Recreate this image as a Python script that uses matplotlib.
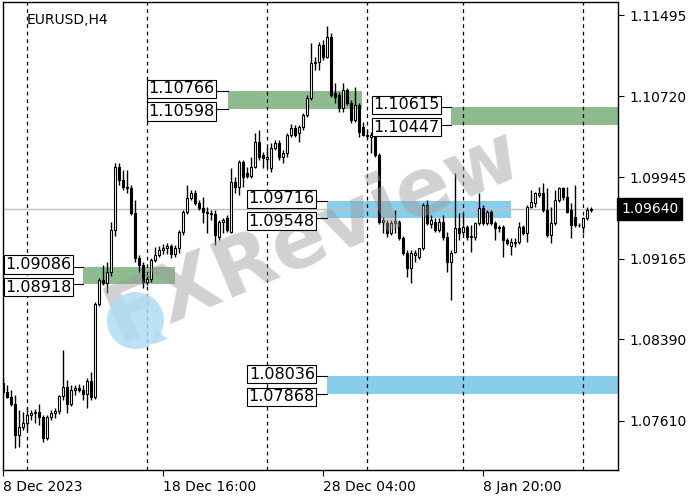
import matplotlib.pyplot as plt
import numpy as np

# EURUSD H4 candles (bar 0 = 8 Dec 2023 00:00)
opens = [1.07974, 1.07888, 1.07840, 1.07773, 1.07476, 1.07553, 1.07591, 1.07667, 1.07687, 1.07696,
         1.07648, 1.07447, 1.07648, 1.07687, 1.07706, 1.07849, 1.07935, 1.07773, 1.07907, 1.07926,
         1.07907, 1.07868, 1.07993, 1.07840, 1.08730, 1.08959, 1.08931, 1.09036, 1.09438, 1.10041,
         1.09916, 1.09849, 1.09840, 1.09601, 1.09170, 1.09103, 1.08940, 1.08969, 1.09151, 1.09199,
         1.09247, 1.09266, 1.09285, 1.09208, 1.09266, 1.09419, 1.09610, 1.09744, 1.09792, 1.09696,
         1.09648, 1.09610, 1.09601, 1.09595, 1.09371, 1.09515, 1.09553, 1.09419, 1.09897, 1.09849,
         1.10089, 1.09983, 1.09955, 1.10041, 1.10280, 1.10156, 1.10117, 1.10031, 1.10223, 1.10271,
         1.10137, 1.10175, 1.10347, 1.10414, 1.10366, 1.10424, 1.10538, 1.10701, 1.11036, 1.11046,
         1.11208, 1.11094, 1.11285, 1.10749, 1.10730, 1.10605, 1.10778, 1.10653, 1.10491, 1.10634,
         1.10424, 1.10347, 1.10328, 1.10347, 1.10156, 1.09515, 1.09505, 1.09409, 1.09505, 1.09515,
         1.09361, 1.09218, 1.09074, 1.09199, 1.09180, 1.09266, 1.09677, 1.09495, 1.09515, 1.09438,
         1.09515, 1.09371, 1.09132, 1.09227, 1.09457, 1.09419, 1.09467, 1.09371, 1.09371, 1.09505,
         1.09648, 1.09505, 1.09610, 1.09505, 1.09457, 1.09467, 1.09342, 1.09285, 1.09314, 1.09323,
         1.09467, 1.09409, 1.09658, 1.09696, 1.09773, 1.09792, 1.09629, 1.09390, 1.09505, 1.09725,
         1.09840, 1.09754, 1.09629, 1.09562, 1.09490, 1.09467, 1.09553, 1.09629]
highs = [1.08031, 1.07955, 1.07907, 1.07859, 1.07715, 1.07696, 1.07744, 1.07715, 1.07725, 1.07773,
         1.07667, 1.07667, 1.07715, 1.07734, 1.07859, 1.08290, 1.08002, 1.07955, 1.07955, 1.07964,
         1.07955, 1.08022, 1.08079, 1.08749, 1.08979, 1.09103, 1.09132, 1.09515, 1.10079, 1.10079,
         1.10012, 1.10012, 1.09869, 1.09725, 1.09199, 1.09132, 1.08998, 1.09170, 1.09275, 1.09285,
         1.09304, 1.09314, 1.09304, 1.09294, 1.09438, 1.09629, 1.09869, 1.09821, 1.09821, 1.09725,
         1.09754, 1.09658, 1.09629, 1.09629, 1.09534, 1.09553, 1.09581, 1.10031, 1.09945, 1.10108,
         1.10108, 1.10041, 1.10137, 1.10366, 1.10395, 1.10184, 1.10232, 1.10271, 1.10299, 1.10299,
         1.10204, 1.10366, 1.10452, 1.10443, 1.10443, 1.10558, 1.10730, 1.11228, 1.11094, 1.11237,
         1.11256, 1.11390, 1.11323, 1.10845, 1.10759, 1.10845, 1.10797, 1.10682, 1.10806, 1.10653,
         1.10472, 1.10395, 1.10376, 1.10366, 1.10175, 1.09562, 1.09534, 1.09534, 1.09629, 1.09534,
         1.09381, 1.09247, 1.09247, 1.09247, 1.09266, 1.09696, 1.09725, 1.09581, 1.09553, 1.09553,
         1.09581, 1.09419, 1.09247, 1.09983, 1.09601, 1.09601, 1.09486, 1.09486, 1.09515, 1.09792,
         1.09677, 1.09629, 1.09629, 1.09524, 1.09486, 1.09486, 1.09361, 1.09361, 1.09361, 1.09515,
         1.09486, 1.09677, 1.09821, 1.09802, 1.09849, 1.09888, 1.09840, 1.09658, 1.09821, 1.09849,
         1.09849, 1.09849, 1.09696, 1.09869, 1.09505, 1.09562, 1.09658, 1.09658]
lows = [1.07859, 1.07830, 1.07754, 1.07352, 1.07361, 1.07524, 1.07524, 1.07620, 1.07591, 1.07572,
        1.07409, 1.07428, 1.07620, 1.07639, 1.07677, 1.07811, 1.07687, 1.07754, 1.07859, 1.07888,
        1.07811, 1.07734, 1.07811, 1.07821, 1.08711, 1.08912, 1.08835, 1.08998, 1.09381, 1.09869,
        1.09821, 1.09792, 1.09581, 1.09132, 1.09036, 1.08883, 1.08912, 1.08940, 1.09132, 1.09180,
        1.09208, 1.09208, 1.09170, 1.09180, 1.09218, 1.09390, 1.09591, 1.09725, 1.09677, 1.09629,
        1.09505, 1.09409, 1.09534, 1.09294, 1.09342, 1.09409, 1.09419, 1.09409, 1.09792, 1.09773,
        1.09849, 1.09936, 1.09936, 1.10031, 1.10108, 1.10031, 1.10041, 1.09993, 1.10204, 1.10108,
        1.10079, 1.10137, 1.10328, 1.10328, 1.10280, 1.10395, 1.10519, 1.10682, 1.10969, 1.10969,
        1.11065, 1.11084, 1.10711, 1.10653, 1.10567, 1.10567, 1.10634, 1.10462, 1.10472, 1.10328,
        1.10338, 1.10318, 1.10175, 1.10137, 1.09495, 1.09409, 1.09371, 1.09390, 1.09409, 1.09342,
        1.09199, 1.08988, 1.08931, 1.09132, 1.09160, 1.09247, 1.09486, 1.09457, 1.09419, 1.09419,
        1.09342, 1.09036, 1.08768, 1.09218, 1.09342, 1.09390, 1.09342, 1.09227, 1.09342, 1.09486,
        1.09486, 1.09486, 1.09486, 1.09342, 1.09419, 1.09180, 1.09294, 1.09199, 1.09275, 1.09304,
        1.09390, 1.09323, 1.09648, 1.09658, 1.09754, 1.09610, 1.09371, 1.09314, 1.09486, 1.09706,
        1.09725, 1.09601, 1.09361, 1.09467, 1.09467, 1.09409, 1.09534, 1.09610]
closes = [1.07888, 1.07840, 1.07773, 1.07476, 1.07553, 1.07591, 1.07667, 1.07687, 1.07696, 1.07648,
          1.07447, 1.07648, 1.07687, 1.07706, 1.07849, 1.07935, 1.07773, 1.07907, 1.07926, 1.07907,
          1.07868, 1.07993, 1.07840, 1.08730, 1.08959, 1.08931, 1.09036, 1.09438, 1.10041, 1.09916,
          1.09849, 1.09840, 1.09601, 1.09170, 1.09103, 1.08940, 1.08969, 1.09151, 1.09199, 1.09247,
          1.09266, 1.09285, 1.09208, 1.09266, 1.09419, 1.09610, 1.09744, 1.09792, 1.09696, 1.09648,
          1.09610, 1.09601, 1.09595, 1.09390, 1.09515, 1.09534, 1.09438, 1.09897, 1.09849, 1.10089,
          1.09945, 1.09955, 1.10041, 1.10280, 1.10137, 1.10127, 1.10137, 1.10223, 1.10271, 1.10137,
          1.10175, 1.10347, 1.10414, 1.10347, 1.10424, 1.10538, 1.10701, 1.11036, 1.11046, 1.11208,
          1.11094, 1.11285, 1.10730, 1.10711, 1.10605, 1.10778, 1.10653, 1.10491, 1.10634, 1.10376,
          1.10347, 1.10338, 1.10347, 1.10156, 1.09515, 1.09534, 1.09409, 1.09505, 1.09524, 1.09361,
          1.09218, 1.09074, 1.09218, 1.09218, 1.09266, 1.09677, 1.09505, 1.09534, 1.09438, 1.09515,
          1.09371, 1.09132, 1.09218, 1.09457, 1.09409, 1.09467, 1.09371, 1.09381, 1.09505, 1.09648,
          1.09505, 1.09610, 1.09505, 1.09457, 1.09467, 1.09342, 1.09314, 1.09323, 1.09323, 1.09467,
          1.09409, 1.09658, 1.09706, 1.09792, 1.09792, 1.09629, 1.09390, 1.09505, 1.09725, 1.09840,
          1.09754, 1.09610, 1.09486, 1.09486, 1.09486, 1.09553, 1.09629, 1.09640]

last_price = 1.09640
price_ticks = [1.11495, 1.10720, 1.09945, 1.09165, 1.08390, 1.07610]
time_tick_bars = [0, 40, 80, 120]
time_tick_labels = ["8 Dec 2023", "18 Dec 16:00", "28 Dec 04:00", "8 Jan 20:00"]
separator_bars = [6, 36, 66, 91, 115, 145]

# zones: top / bottom price, start / end bar, right edge of the label boxes, fill colour
zone_tops = [1.09086, 1.10766, 1.10615, 1.09716, 1.08036]
zone_bottoms = [1.08918, 1.10598, 1.10447, 1.09548, 1.07868]
zone_starts = [20, 56.25, 112, 81, 81]
zone_ends = [43, 89.75, 160, 127, 160]
zone_label_x = [17.75, 53.5, 109.75, 78.5, 78.5]
zone_colors = ["#8fbc8f", "#8fbc8f", "#8fbc8f", "#87ceeb", "#87ceeb"]

fig = plt.figure(figsize=(7, 5), dpi=100)
ax = fig.add_axes([3 / 700, 30 / 500, 615 / 700, 468 / 500])
ax.set_xlim(0, 153.75)
ax.set_ylim(1.07141, 1.11620)

x = np.arange(len(opens))
o = np.array(opens)
c = np.array(closes)

# zones with their price labels
for top, bot, x0, x1, lx, col in zip(zone_tops, zone_bottoms, zone_starts, zone_ends,
                                     zone_label_x, zone_colors):
    ax.fill_between([x0, x1], bot, top, color=col, lw=0, zorder=1)
    ax.plot([lx, x0], [top, top], color="black", lw=0.8, zorder=5)
    ax.plot([lx, x0], [bot, bot], color="black", lw=0.8, zorder=5)
    ax.text(lx - 0.55, top + 0.00022, f"{top:.5f}", ha="right", va="center", fontsize=11.5,
            zorder=6, bbox=dict(boxstyle="square,pad=0.1", fc="white", ec="black", lw=0.8))
    ax.text(lx - 0.55, bot - 0.00026, f"{bot:.5f}", ha="right", va="center", fontsize=11.5,
            zorder=6, bbox=dict(boxstyle="square,pad=0.1", fc="white", ec="black", lw=0.8))

# watermark
ax.text(0.505, 0.50, "FXReview", transform=ax.transAxes, fontsize=58, fontweight="bold",
        color="#9a9a9a", alpha=0.45, rotation=23, ha="center", va="center", zorder=4)
ax.plot([0.215], [0.32], "o", ms=41, color="#b0dcf4", alpha=0.85, mec="none",
        transform=ax.transAxes, zorder=4)
ax.plot([0.252], [0.285], marker=(3, 0, 20), ms=13, color="#b0dcf4", alpha=0.85, mec="none",
        transform=ax.transAxes, zorder=4)

# period separators and current price line
for b in separator_bars:
    ax.axvline(b, color="black", lw=0.9, ls=(0, (3, 3)), zorder=2)
ax.axhline(last_price, color="#c0c0c0", lw=1, zorder=2)

# candles
ax.vlines(x, lows, highs, color="black", lw=1, zorder=3)
bull = c >= o
ax.bar(x, np.abs(c - o), bottom=np.minimum(o, c), width=0.62,
       color=np.where(bull, "white", "black"), edgecolor="black", lw=0.8, zorder=3.5)

ax.text(6, 1.11450, "EURUSD,H4", fontsize=10, ha="left", va="center")

ax.yaxis.tick_right()
ax.set_yticks(price_ticks)
ax.set_yticklabels([f"{p:.5f}" for p in price_ticks])
ax.tick_params(axis="y", length=4, labelsize=10, pad=4)
ax.set_xticks(time_tick_bars)
ax.set_xticklabels(time_tick_labels, ha="left")
ax.tick_params(axis="x", length=4, labelsize=10, pad=3)
ax.text(1.005, last_price, f"{last_price:.5f}", transform=ax.get_yaxis_transform(),
        color="white", fontsize=10, va="center", ha="left",
        bbox=dict(boxstyle="square,pad=0.3", fc="black", ec="black"))

for s in ax.spines.values():
    s.set_linewidth(1)

fig.savefig("out.png", dpi=100)
